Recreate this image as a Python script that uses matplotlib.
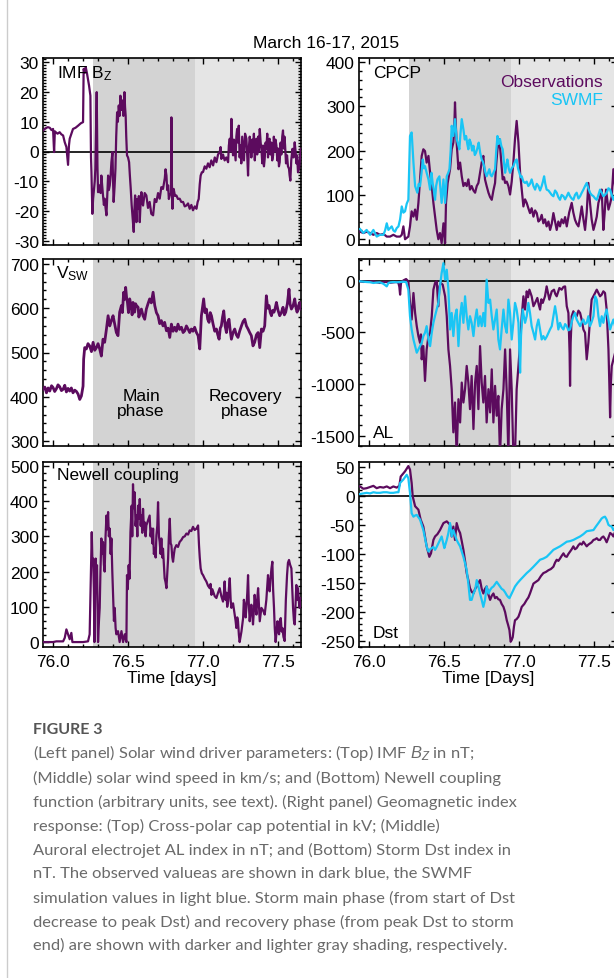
import numpy as np
import matplotlib
matplotlib.use("Agg")
import matplotlib.pyplot as plt
from matplotlib.ticker import MultipleLocator, FormatStrFormatter
from matplotlib.lines import Line2D

plt.rcParams['font.family'] = ['Liberation Sans', 'DejaVu Sans']
plt.rcParams['axes.unicode_minus'] = False
plt.rcParams['mathtext.fontset'] = 'custom'
plt.rcParams['mathtext.rm'] = 'Liberation Sans'
plt.rcParams['mathtext.it'] = 'Liberation Sans:italic'

# ---- data (day of year 2015) ----
main_start = 76.265
dst_peak = 76.946
storm_end = 77.70
x_range = (75.933, 77.653)

bz_obs = [(75.933, 7.1), (75.950, 7.8), (75.965, 8.2), (75.978, 8.0), (75.990, 7.2), (76.000, 7.6),
          (76.007, -0.2), (76.012, 6.8), (76.018, 6.5), (76.030, 6.0), (76.044, 6.5), (76.055, 5.8),
          (76.067, 5.4), (76.078, 3.1), (76.089, 1.5), (76.100, -4.5), (76.106, 2.0), (76.111, 4.3),
          (76.122, 6.0), (76.133, 7.6), (76.150, 8.0), (76.167, 8.7), (76.185, 9.5), (76.200, 9.9),
          (76.204, 27.8), (76.211, 26.5), (76.218, 28.4), (76.227, 26.1), (76.234, 24.0), (76.240, 22.2),
          (76.249, 18.8), (76.253, -2), (76.256, -6.9), (76.262, -21), (76.267, -16), (76.273, -12.6),
          (76.278, -10), (76.282, -5.8), (76.287, 8), (76.291, 20), (76.296, -5), (76.300, -13.7),
          (76.306, -12), (76.311, -11.4), (76.317, -14), (76.322, -8.1), (76.328, -12), (76.333, -14.8),
          (76.339, -18), (76.344, -15.9), (76.350, -19), (76.356, -21.5), (76.362, -14), (76.367, -8.1),
          (76.372, -13), (76.378, -11.4), (76.384, -8), (76.389, -3.6), (76.396, -0.2), (76.400, -10),
          (76.404, -17), (76.410, -12), (76.416, -5.8), (76.421, 5), (76.427, 13.2), (76.432, 10),
          (76.438, 15.5), (76.444, 12), (76.449, 18.8), (76.455, 14), (76.462, 17.2), (76.469, 12),
          (76.476, 20), (76.480, 15), (76.484, 12.1), (76.488, 5), (76.493, -1.3), (76.500, -2),
          (76.507, -3.6), (76.512, -8), (76.518, -12.6), (76.524, -18), (76.529, -21.5), (76.533, -24),
          (76.538, -27.1), (76.542, -20), (76.547, -14.8), (76.552, -20), (76.556, -23.8), (76.561, -16),
          (76.567, -19.3), (76.572, -15), (76.578, -23.8), (76.584, -17), (76.589, -13.7), (76.594, -17),
          (76.600, -18.2), (76.611, -14), (76.622, -14.8), (76.633, -19), (76.644, -17), (76.655, -21),
          (76.667, -21.5), (76.678, -16), (76.689, -17), (76.700, -14), (76.711, -15.9), (76.722, -12),
          (76.733, -12.6), (76.745, -9), (76.750, -6), (76.756, -8.1), (76.761, -13), (76.767, -11.4),
          (76.772, -16), (76.778, -14.8), (76.786, -14), (76.789, 11.5), (76.792, -10), (76.796, -19.3),
          (76.800, -14), (76.804, -12.6), (76.813, -15), (76.822, -14.8), (76.833, -16), (76.844, -15.9),
          (76.855, -17), (76.867, -17), (76.878, -18.5), (76.889, -18.2), (76.900, -17.5), (76.911, -19.3),
          (76.922, -18), (76.933, -19.8), (76.945, -18.5), (76.956, -19.3), (76.964, -17), (76.971, -16),
          (76.978, -11), (76.984, -8.1), (76.992, -7), (77.000, -6.9), (77.011, -5.0), (77.022, -5.8),
          (77.033, -4), (77.044, -5.3), (77.055, -3), (77.067, -4.7), (77.078, -2), (77.089, -3.6),
          (77.100, -1), (77.111, -0.2), (77.117, 1.5), (77.122, -2.5), (77.133, -1), (77.144, -3),
          (77.155, -2), (77.167, -3.6), (77.172, 2), (77.178, 4.3), (77.184, 0), (77.189, 11),
          (77.195, 2), (77.200, -1.3), (77.206, 4), (77.211, 0.9), (77.217, -3), (77.222, 5),
          (77.227, 7.6), (77.233, 3), (77.238, 8.7), (77.244, -2), (77.249, 2), (77.255, -4),
          (77.261, 5), (77.267, 0.9), (77.273, -3), (77.280, 6), (77.289, 4.3), (77.295, -2),
          (77.300, -8.1), (77.305, 1), (77.311, 5), (77.316, 3.1), (77.322, -2), (77.328, 4),
          (77.333, -0.2), (77.339, 6), (77.345, -3), (77.350, 2), (77.356, 4.3), (77.361, -1),
          (77.367, 5), (77.372, 0), (77.378, 7.6), (77.384, 3), (77.389, 0.9), (77.395, -4),
          (77.400, 2), (77.406, -5), (77.411, -2.5), (77.417, 3), (77.422, 0.9), (77.428, 6),
          (77.433, -2), (77.439, 4), (77.444, 4.3), (77.450, -1), (77.456, 3), (77.461, -3),
          (77.467, -1.3), (77.472, 5), (77.478, 0), (77.483, 4), (77.489, 2), (77.495, -3),
          (77.500, 1), (77.506, -5), (77.511, -3.6), (77.517, 3), (77.522, -1), (77.528, 5),
          (77.533, 7.1), (77.539, 1), (77.543, 5), (77.547, 2), (77.553, -4), (77.560, -1.3),
          (77.566, -5), (77.573, -5.8), (77.577, -8), (77.582, -9.8), (77.588, -3), (77.596, 0.9),
          (77.603, -2), (77.611, 3.1), (77.617, 0), (77.622, -4), (77.627, -1.3), (77.633, -7),
          (77.640, -5.8), (77.646, -2), (77.651, 0.9)]

vsw_obs = [(75.933, 417), (75.945, 422), (75.956, 409), (75.967, 420), (75.978, 413), (75.990, 425),
           (76.000, 421), (76.011, 412), (76.022, 418), (76.033, 427), (76.044, 423), (76.056, 414),
           (76.067, 417), (76.078, 426), (76.089, 411), (76.100, 419), (76.111, 413), (76.122, 420),
           (76.133, 409), (76.145, 415), (76.156, 412), (76.167, 406), (76.178, 394), (76.189, 402),
           (76.200, 424), (76.204, 485), (76.211, 511), (76.222, 508), (76.233, 520), (76.244, 515),
           (76.256, 502), (76.267, 523), (76.278, 505), (76.289, 511), (76.300, 520), (76.311, 508),
           (76.322, 492), (76.333, 530), (76.344, 523), (76.356, 553), (76.367, 583), (76.378, 560),
           (76.389, 572), (76.400, 583), (76.411, 564), (76.422, 545), (76.433, 538), (76.444, 591),
           (76.456, 606), (76.462, 590), (76.471, 636), (76.478, 620), (76.484, 647), (76.490, 625),
           (76.496, 613), (76.503, 590), (76.511, 621), (76.522, 602), (76.527, 585), (76.533, 613),
           (76.544, 591), (76.550, 610), (76.556, 606), (76.567, 602), (76.572, 580), (76.578, 587),
           (76.589, 598), (76.600, 583), (76.611, 575), (76.622, 598), (76.633, 610), (76.644, 621),
           (76.655, 612), (76.667, 636), (76.678, 606), (76.689, 590), (76.700, 583), (76.711, 565),
           (76.722, 572), (76.733, 560), (76.744, 568), (76.756, 549), (76.767, 555), (76.778, 534),
           (76.789, 564), (76.800, 548), (76.811, 557), (76.822, 548), (76.833, 564), (76.844, 552),
           (76.856, 557), (76.867, 545), (76.878, 549), (76.889, 560), (76.900, 553), (76.911, 545),
           (76.922, 553), (76.933, 548), (76.944, 557), (76.956, 545), (76.967, 538), (76.978, 508),
           (76.989, 583), (77.004, 621), (77.013, 590), (77.022, 598), (77.031, 575), (77.040, 568),
           (77.048, 590), (77.056, 583), (77.067, 564), (77.078, 548), (77.089, 553), (77.098, 540),
           (77.107, 530), (77.115, 555), (77.122, 560), (77.130, 580), (77.138, 594), (77.147, 560),
           (77.156, 545), (77.164, 568), (77.173, 575), (77.181, 550), (77.189, 530), (77.200, 545),
           (77.211, 553), (77.222, 540), (77.233, 534), (77.244, 548), (77.256, 560), (77.267, 570),
           (77.278, 575), (77.289, 560), (77.300, 553), (77.311, 545), (77.322, 538), (77.333, 515),
           (77.344, 523), (77.356, 540), (77.367, 545), (77.378, 511), (77.389, 553), (77.400, 548),
           (77.411, 560), (77.422, 628), (77.431, 600), (77.440, 606), (77.448, 590), (77.456, 583),
           (77.464, 595), (77.473, 591), (77.481, 600), (77.489, 613), (77.500, 595), (77.511, 583),
           (77.522, 590), (77.533, 602), (77.542, 585), (77.551, 591), (77.562, 610), (77.573, 643),
           (77.580, 610), (77.589, 598), (77.600, 605), (77.611, 621), (77.620, 600), (77.627, 591),
           (77.636, 605), (77.644, 613), (77.651, 598)]

newell_obs = [(75.933, 0), (76.000, 0), (76.022, 2), (76.067, 2), (76.078, 12), (76.089, 36),
              (76.100, 22), (76.111, 8), (76.122, 26), (76.129, 0), (76.200, 0), (76.233, 2),
              (76.244, 22), (76.251, 162), (76.258, 312), (76.263, 220), (76.267, 237), (76.272, 150),
              (76.276, 0), (76.280, 120), (76.284, 237), (76.288, 180), (76.293, 218), (76.300, 0),
              (76.306, 60), (76.311, 97), (76.316, 200), (76.322, 294), (76.328, 250), (76.333, 284),
              (76.339, 220), (76.344, 200), (76.350, 300), (76.356, 359), (76.361, 320), (76.367, 369),
              (76.372, 300), (76.378, 322), (76.384, 250), (76.389, 294), (76.395, 200), (76.400, 134),
              (76.406, 60), (76.411, 97), (76.417, 40), (76.422, 22), (76.433, 31), (76.444, 0),
              (76.456, 31), (76.467, 0), (76.478, 22), (76.489, 0), (76.493, 190), (76.498, 150),
              (76.504, 218), (76.510, 180), (76.516, 312), (76.524, 387), (76.528, 300), (76.533, 448),
              (76.538, 380), (76.544, 425), (76.550, 330), (76.556, 359), (76.562, 300), (76.567, 387),
              (76.573, 350), (76.578, 406), (76.584, 330), (76.589, 359), (76.595, 310), (76.600, 378),
              (76.606, 320), (76.611, 340), (76.617, 300), (76.622, 331), (76.633, 345), (76.644, 359),
              (76.650, 300), (76.656, 322), (76.662, 280), (76.667, 322), (76.672, 250), (76.678, 265),
              (76.684, 240), (76.689, 303), (76.695, 330), (76.700, 397), (76.706, 300), (76.711, 284),
              (76.717, 250), (76.722, 294), (76.728, 240), (76.733, 265), (76.739, 220), (76.744, 181),
              (76.750, 170), (76.756, 153), (76.762, 200), (76.767, 237), (76.772, 300), (76.778, 350),
              (76.784, 280), (76.789, 275), (76.795, 240), (76.800, 228), (76.806, 250), (76.811, 265),
              (76.822, 275), (76.833, 270), (76.844, 284), (76.856, 290), (76.867, 298), (76.878, 300),
              (76.889, 308), (76.900, 305), (76.911, 317), (76.922, 315), (76.933, 327), (76.944, 318),
              (76.956, 322), (76.967, 331), (76.973, 275), (76.978, 240), (76.984, 209), (76.992, 195),
              (77.000, 190), (77.011, 180), (77.022, 172), (77.033, 160), (77.044, 153), (77.050, 165),
              (77.056, 134), (77.062, 150), (77.067, 144), (77.078, 130), (77.089, 125), (77.100, 140),
              (77.111, 153), (77.122, 130), (77.133, 115), (77.139, 140), (77.144, 172), (77.150, 120),
              (77.156, 140), (77.161, 100), (77.167, 115), (77.172, 150), (77.178, 181), (77.184, 120),
              (77.189, 97), (77.200, 110), (77.211, 78), (77.217, 60), (77.222, 40), (77.228, 70),
              (77.233, 59), (77.239, 20), (77.244, 0), (77.256, 30), (77.267, 68), (77.272, 120),
              (77.278, 106), (77.284, 70), (77.289, 97), (77.295, 140), (77.300, 190), (77.305, 110),
              (77.311, 59), (77.317, 90), (77.322, 106), (77.328, 80), (77.333, 50), (77.339, 90),
              (77.344, 134), (77.350, 100), (77.356, 78), (77.361, 120), (77.367, 153), (77.372, 110),
              (77.378, 59), (77.384, 80), (77.389, 97), (77.400, 90), (77.411, 78), (77.422, 120),
              (77.433, 190), (77.439, 160), (77.444, 144), (77.450, 180), (77.456, 209), (77.462, 228),
              (77.467, 150), (77.473, 97), (77.478, 40), (77.484, 0), (77.490, 30), (77.496, 59),
              (77.501, 30), (77.507, 22), (77.512, 60), (77.518, 68), (77.524, 30), (77.529, 40),
              (77.536, 15), (77.544, 3), (77.552, 120), (77.560, 190), (77.566, 225), (77.573, 233),
              (77.580, 220), (77.589, 209), (77.595, 150), (77.600, 97), (77.606, 60), (77.611, 50),
              (77.617, 110), (77.622, 162), (77.628, 120), (77.633, 153), (77.640, 110), (77.644, 97),
              (77.651, 125)]

cpcp_obs = [(75.940, 17), (75.962, 14), (75.984, 17), (76.007, 14), (76.029, 10), (76.051, 14),
            (76.073, 10), (76.096, 12), (76.118, 6), (76.140, 6), (76.162, 10), (76.184, 6),
            (76.207, 6), (76.218, 10), (76.229, 29), (76.240, 0), (76.262, 6), (76.273, 29),
            (76.284, 63), (76.296, 51), (76.307, 67), (76.318, 44), (76.329, 82), (76.340, 135),
            (76.351, 188), (76.362, 203), (76.373, 199), (76.384, 173), (76.396, 188), (76.407, 150),
            (76.418, 120), (76.429, 82), (76.440, 51), (76.451, 21), (76.462, 0), (76.473, 14),
            (76.484, -9), (76.496, 36), (76.507, -9), (76.513, 82), (76.524, 127), (76.540, 158),
            (76.551, 203), (76.562, 218), (76.568, 250), (76.573, 309), (76.578, 260), (76.584, 218),
            (76.596, 158), (76.607, 173), (76.618, 142), (76.629, 120), (76.640, 127), (76.651, 120),
            (76.662, 135), (76.673, 112), (76.684, 120), (76.696, 110), (76.707, 105), (76.718, 120),
            (76.729, 127), (76.740, 150), (76.751, 173), (76.762, 188), (76.773, 135), (76.784, 120),
            (76.796, 105), (76.807, 95), (76.818, 89), (76.829, 110), (76.840, 127), (76.848, 170),
            (76.856, 203), (76.869, 226), (76.880, 180), (76.891, 135), (76.900, 140), (76.907, 127),
            (76.918, 130), (76.929, 120), (76.940, 101), (76.951, 130), (76.962, 173), (76.973, 226),
            (76.984, 267), (76.996, 218), (77.007, 150), (77.018, 112), (77.029, 74), (77.040, 90),
            (77.051, 82), (77.062, 70), (77.073, 59), (77.084, 70), (77.096, 51), (77.107, 65),
            (77.118, 59), (77.129, 40), (77.140, 44), (77.151, 55), (77.162, 36), (77.173, 45),
            (77.184, 29), (77.196, 40), (77.207, 21), (77.218, 35), (77.229, 59), (77.240, 40),
            (77.251, 21), (77.262, 40), (77.273, 29), (77.284, 45), (77.296, 36), (77.307, 50),
            (77.318, 29), (77.334, 60), (77.351, 82), (77.362, 60), (77.373, 44), (77.384, 35),
            (77.396, 29), (77.407, 50), (77.418, 74), (77.429, 45), (77.440, 21), (77.451, 60),
            (77.462, 127), (77.473, 82), (77.484, 45), (77.496, 21), (77.507, 35), (77.518, 51),
            (77.529, 82), (77.540, 95), (77.551, 112), (77.562, 21), (77.571, 60), (77.580, 112),
            (77.596, 67), (77.607, 80), (77.618, 97), (77.629, 158), (77.640, 120), (77.653, 110)]

cpcp_swmf = [(75.940, 23), (75.962, 14), (75.984, 21), (76.007, 10), (76.029, 21), (76.051, 6),
             (76.073, 10), (76.096, 10), (76.107, 20), (76.118, 36), (76.129, 21), (76.140, 25),
             (76.151, 29), (76.162, 20), (76.173, 17), (76.184, 25), (76.196, 29), (76.207, 45),
             (76.218, 74), (76.229, 60), (76.240, 63), (76.251, 80), (76.262, 89), (76.273, 233),
             (76.284, 241), (76.296, 173), (76.307, 120), (76.322, 105), (76.331, 125), (76.340, 120),
             (76.350, 150), (76.358, 180), (76.366, 160), (76.373, 165), (76.384, 150), (76.396, 135),
             (76.407, 112), (76.416, 150), (76.424, 127), (76.432, 110), (76.440, 89), (76.447, 120),
             (76.456, 135), (76.469, 142), (76.484, 82), (76.496, 135), (76.507, 82), (76.518, 142),
             (76.528, 150), (76.536, 158), (76.544, 200), (76.551, 256), (76.562, 233), (76.573, 271),
             (76.584, 226), (76.593, 215), (76.602, 203), (76.610, 240), (76.618, 271), (76.629, 248),
             (76.638, 225), (76.647, 233), (76.655, 215), (76.662, 203), (76.670, 225), (76.678, 218),
             (76.687, 200), (76.696, 211), (76.705, 190), (76.713, 195), (76.722, 205), (76.731, 218),
             (76.741, 195), (76.751, 180), (76.759, 175), (76.767, 165), (76.776, 150), (76.784, 142),
             (76.793, 150), (76.802, 158), (76.810, 145), (76.818, 142), (76.829, 150), (76.840, 158),
             (76.848, 200), (76.856, 233), (76.864, 215), (76.873, 226), (76.882, 210), (76.891, 203),
             (76.899, 175), (76.907, 150), (76.914, 165), (76.922, 180), (76.931, 160), (76.940, 150),
             (76.951, 160), (76.962, 165), (76.973, 175), (76.984, 180), (76.993, 160), (77.002, 150),
             (77.010, 140), (77.018, 142), (77.029, 130), (77.040, 127), (77.051, 130), (77.062, 120),
             (77.073, 125), (77.084, 135), (77.096, 120), (77.107, 112), (77.118, 125), (77.129, 120),
             (77.140, 110), (77.151, 120), (77.159, 130), (77.167, 142), (77.175, 125), (77.184, 112),
             (77.196, 110), (77.207, 105), (77.218, 100), (77.229, 97), (77.240, 110), (77.251, 105),
             (77.262, 95), (77.273, 89), (77.284, 100), (77.296, 97), (77.307, 90), (77.318, 97),
             (77.329, 105), (77.340, 97), (77.351, 92), (77.362, 89), (77.373, 100), (77.384, 105),
             (77.396, 92), (77.407, 97), (77.418, 105), (77.429, 112), (77.440, 120), (77.451, 127),
             (77.462, 115), (77.473, 105), (77.484, 100), (77.496, 97), (77.507, 92), (77.518, 89),
             (77.529, 100), (77.540, 112), (77.551, 105), (77.562, 97), (77.573, 100), (77.584, 105),
             (77.596, 115), (77.607, 112), (77.618, 100), (77.629, 89), (77.640, 100), (77.653, 95)]

al_obs = [(75.940, -6), (75.962, -12), (75.984, -10), (76.007, -8), (76.029, -6), (76.051, -15),
          (76.073, -22), (76.096, -12), (76.118, -13), (76.140, -20), (76.162, -16), (76.184, -12),
          (76.196, -22), (76.202, -60), (76.207, -135), (76.213, -22), (76.229, 3), (76.247, 16),
          (76.262, -6), (76.273, -215), (76.284, -376), (76.290, -250), (76.296, -119), (76.307, -312),
          (76.318, -440), (76.329, -536), (76.340, -601), (76.346, -520), (76.351, -761), (76.362, -633),
          (76.373, -970), (76.384, -665), (76.396, -536), (76.407, -504), (76.418, -344), (76.429, -87),
          (76.440, -22), (76.451, -6), (76.462, -247), (76.469, -55), (76.478, -22), (76.491, -39),
          (76.507, -151), (76.518, -344), (76.529, -665), (76.540, -825), (76.551, -1050), (76.562, -1468),
          (76.573, -1179), (76.584, -1700), (76.596, -1147), (76.607, -1372), (76.618, -986), (76.629, -1179),
          (76.640, -1050), (76.651, -825), (76.662, -986), (76.673, -1243), (76.684, -922), (76.696, -1436),
          (76.707, -986), (76.718, -825), (76.729, -1243), (76.740, -633), (76.751, -986), (76.762, -1179),
          (76.773, -922), (76.784, -1372), (76.796, -1050), (76.807, -1275), (76.818, -858), (76.829, -1372),
          (76.840, -1018), (76.851, -1307), (76.862, -1115), (76.873, -1700), (76.884, -1243), (76.896, -1050),
          (76.907, -665), (76.918, -1082), (76.929, -1700), (76.940, -665), (76.951, -1050), (76.962, -1700),
          (76.973, -1700), (76.984, -1050), (76.996, -825), (77.007, -601), (77.018, -344), (77.029, -151),
          (77.040, -279), (77.051, -103), (77.060, -160), (77.069, -87), (77.084, -151), (77.096, -247),
          (77.107, -215), (77.122, -167), (77.131, -230), (77.140, -279), (77.149, -180), (77.158, -215),
          (77.173, -151), (77.184, -55), (77.193, -120), (77.202, -183), (77.218, -103), (77.233, -87),
          (77.242, -130), (77.251, -151), (77.269, -71), (77.284, -87), (77.296, -60), (77.307, -55),
          (77.318, -247), (77.329, -312), (77.337, -700), (77.340, -1018), (77.344, -600), (77.351, -344),
          (77.362, -296), (77.373, -330), (77.384, -344), (77.396, -290), (77.407, -312), (77.418, -380),
          (77.429, -472), (77.440, -504), (77.451, -761), (77.462, -601), (77.473, -376), (77.484, -183),
          (77.496, -150), (77.507, -119), (77.518, -87), (77.529, -120), (77.540, -151), (77.551, -135),
          (77.562, -103), (77.573, -119), (77.584, -279), (77.596, -665), (77.602, -1000), (77.607, -1323),
          (77.612, -1000), (77.618, -825), (77.629, -761), (77.640, -700), (77.653, -650)]

al_swmf = [(75.940, -6), (75.962, -10), (75.984, -13), (76.007, -15), (76.029, -22), (76.051, -18),
           (76.073, -16), (76.096, -30), (76.118, -55), (76.129, -22), (76.145, -15), (76.162, -13),
           (76.185, -15), (76.207, -13), (76.227, -10), (76.247, -13), (76.262, -87), (76.273, -344),
           (76.284, -472), (76.296, -569), (76.307, -633), (76.318, -697), (76.329, -665), (76.340, -633),
           (76.351, -601), (76.362, -536), (76.373, -504), (76.384, -440), (76.396, -569), (76.407, -633),
           (76.418, -504), (76.429, -408), (76.440, -340), (76.451, -279), (76.462, -215), (76.473, -55),
           (76.484, 74), (76.496, 170), (76.507, 10), (76.518, 106), (76.529, -87), (76.540, -472),
           (76.551, -312), (76.562, -536), (76.573, -344), (76.584, -279), (76.596, -633), (76.607, -344),
           (76.618, -215), (76.629, -408), (76.640, -151), (76.651, -344), (76.662, -472), (76.673, -344),
           (76.684, -408), (76.696, -536), (76.707, -376), (76.718, -279), (76.729, -440), (76.740, -344),
           (76.751, -440), (76.762, -312), (76.773, -440), (76.784, 10), (76.796, -215), (76.807, -183),
           (76.818, -344), (76.829, -472), (76.840, -376), (76.851, -279), (76.862, -569), (76.873, -665),
           (76.884, -472), (76.896, -279), (76.907, -440), (76.918, -504), (76.929, -183), (76.940, -312),
           (76.951, -569), (76.962, -408), (76.973, -215), (76.984, -279), (76.996, -408), (77.007, -890),
           (77.013, -536), (77.024, -279), (77.040, -408), (77.051, -344), (77.062, -215), (77.073, -312),
           (77.084, -440), (77.096, -504), (77.107, -569), (77.118, -440), (77.129, -376), (77.140, -472),
           (77.151, -569), (77.162, -536), (77.173, -569), (77.185, -540), (77.196, -504), (77.207, -470),
           (77.218, -440), (77.229, -344), (77.240, -247), (77.251, -344), (77.262, -472), (77.273, -408),
           (77.284, -450), (77.296, -472), (77.307, -420), (77.318, -440), (77.329, -480), (77.340, -472),
           (77.351, -400), (77.362, -344), (77.373, -312), (77.384, -376), (77.396, -410), (77.407, -440),
           (77.418, -400), (77.429, -376), (77.440, -420), (77.451, -408), (77.462, -344), (77.473, -440),
           (77.484, -400), (77.496, -344), (77.507, -151), (77.518, -183), (77.529, -344), (77.540, -440),
           (77.551, -344), (77.562, -408), (77.573, -330), (77.584, -279), (77.596, -380), (77.607, -472),
           (77.618, -420), (77.629, -376), (77.640, -440), (77.653, -420)]

dst_obs = [(75.940, 16), (75.962, 12), (75.984, 13), (76.007, 15), (76.029, 17), (76.051, 13),
           (76.073, 15), (76.096, 14), (76.118, 16), (76.140, 13), (76.162, 16), (76.184, 14),
           (76.202, 17), (76.211, 33), (76.240, 42), (76.262, 51), (76.273, 45), (76.284, 22),
           (76.291, -1), (76.307, -18), (76.329, -24), (76.344, -41), (76.362, -53), (76.384, -87),
           (76.402, -105), (76.413, -99), (76.429, -76), (76.440, -70), (76.456, -66), (76.473, -59),
           (76.496, -47), (76.518, -44), (76.540, -50), (76.551, -70), (76.562, -53), (76.573, -76),
           (76.584, -47), (76.596, -58), (76.607, -64), (76.618, -78), (76.629, -93), (76.640, -112),
           (76.651, -133), (76.662, -145), (76.673, -159), (76.684, -165), (76.696, -168), (76.707, -160),
           (76.718, -156), (76.729, -150), (76.740, -145), (76.751, -160), (76.762, -168), (76.773, -160),
           (76.784, -156), (76.796, -170), (76.807, -179), (76.818, -172), (76.829, -168), (76.840, -176),
           (76.851, -174), (76.862, -178), (76.873, -179), (76.884, -186), (76.896, -191), (76.907, -200),
           (76.918, -214), (76.927, -222), (76.936, -231), (76.944, -251), (76.951, -248), (76.958, -243),
           (76.966, -225), (76.973, -214), (76.984, -212), (76.996, -208), (77.007, -200), (77.018, -191),
           (77.035, -186), (77.051, -179), (77.062, -175), (77.073, -168), (77.084, -160), (77.096, -151),
           (77.112, -148), (77.129, -145), (77.146, -138), (77.162, -133), (77.179, -131), (77.196, -128),
           (77.212, -126), (77.229, -122), (77.240, -115), (77.251, -110), (77.262, -112), (77.273, -108),
           (77.285, -103), (77.296, -99), (77.307, -104), (77.318, -105), (77.329, -100), (77.340, -96),
           (77.351, -92), (77.362, -87), (77.373, -92), (77.384, -90), (77.396, -85), (77.407, -82),
           (77.418, -84), (77.429, -79), (77.440, -83), (77.451, -87), (77.462, -84), (77.473, -82),
           (77.484, -80), (77.496, -76), (77.507, -75), (77.518, -73), (77.529, -76), (77.540, -76),
           (77.551, -72), (77.562, -70), (77.573, -74), (77.584, -80), (77.596, -72), (77.607, -64),
           (77.618, -66), (77.629, -70), (77.640, -62), (77.653, -58)]

dst_swmf = [(75.940, 3), (75.962, 4), (75.984, 5), (76.007, 4), (76.029, 6), (76.051, 5),
            (76.073, 5), (76.096, 6), (76.118, 6), (76.140, 5), (76.162, 5), (76.184, 6),
            (76.196, 6), (76.207, 22), (76.229, 28), (76.251, 36), (76.262, 30), (76.273, 5),
            (76.284, -30), (76.296, -36), (76.307, -34), (76.318, -33), (76.329, -37), (76.340, -41),
            (76.351, -50), (76.362, -59), (76.373, -73), (76.384, -87), (76.396, -96), (76.407, -92),
            (76.418, -90), (76.429, -88), (76.440, -93), (76.451, -88), (76.462, -82), (76.473, -76),
            (76.484, -70), (76.493, -80), (76.502, -90), (76.510, -83), (76.518, -76), (76.529, -64),
            (76.540, -47), (76.551, -70), (76.562, -59), (76.573, -68), (76.584, -76), (76.596, -82),
            (76.607, -87), (76.618, -96), (76.629, -105), (76.640, -116), (76.651, -128), (76.662, -151),
            (76.673, -179), (76.684, -179), (76.696, -168), (76.707, -162), (76.718, -145), (76.729, -156),
            (76.740, -168), (76.751, -179), (76.762, -191), (76.773, -179), (76.784, -156), (76.796, -168),
            (76.807, -162), (76.818, -158), (76.829, -156), (76.840, -152), (76.851, -148), (76.862, -152),
            (76.873, -156), (76.884, -160), (76.896, -162), (76.907, -166), (76.918, -171), (76.927, -174),
            (76.936, -176), (76.951, -168), (76.962, -162), (76.973, -156), (76.990, -150), (77.007, -145),
            (77.029, -139), (77.051, -133), (77.073, -128), (77.096, -122), (77.118, -116), (77.140, -110),
            (77.162, -108), (77.184, -105), (77.207, -99), (77.229, -93), (77.251, -90), (77.273, -87),
            (77.296, -83), (77.318, -79), (77.340, -78), (77.362, -76), (77.384, -73), (77.407, -70),
            (77.429, -66), (77.451, -61), (77.473, -60), (77.496, -59), (77.512, -53), (77.529, -47),
            (77.540, -43), (77.551, -39), (77.562, -37), (77.573, -36), (77.584, -41), (77.596, -50),
            (77.607, -52), (77.618, -53), (77.629, -59), (77.640, -55), (77.653, -52)]

caption_lines = [
    "(Left panel) Solar wind driver parameters: (Top) IMF $B_Z$ in nT;",
    "(Middle) solar wind speed in km/s; and (Bottom) Newell coupling",
    "function (arbitrary units, see text). (Right panel) Geomagnetic index",
    "response: (Top) Cross-polar cap potential in kV; (Middle)",
    "Auroral electrojet AL index in nT; and (Bottom) Storm Dst index in",
    "nT. The observed valueas are shown in dark blue, the SWMF",
    "simulation values in light blue. Storm main phase (from start of Dst",
    "decrease to peak Dst) and recovery phase (from peak Dst to storm",
    "end) are shown with darker and lighter gray shading, respectively.",
]

# ---- styling ----
OBS = '#5c0b5e'
SIM = '#19c5f5'
DARK = '#d3d3d3'
LIGHT = '#e5e5e5'
W, H = 614, 979
FS = 12.5

fig = plt.figure(figsize=(W / 100, H / 100), dpi=100)


def box(l, t, r, b):
    return [l / W, 1 - b / H, (r - l) / W, (b - t) / H]


def panel(rect, ylim, major, minor, show_x=False):
    ax = fig.add_axes(box(*rect))
    ax.axvspan(main_start, dst_peak, color=DARK, lw=0, zorder=0)
    ax.axvspan(dst_peak, storm_end, color=LIGHT, lw=0, zorder=0)
    ax.set_xlim(*x_range)
    ax.set_ylim(*ylim)
    ax.xaxis.set_major_locator(MultipleLocator(0.5))
    ax.xaxis.set_minor_locator(MultipleLocator(0.1))
    ax.xaxis.set_major_formatter(FormatStrFormatter('%.1f'))
    ax.yaxis.set_major_locator(MultipleLocator(major))
    ax.yaxis.set_minor_locator(MultipleLocator(minor))
    ax.tick_params(which='both', direction='in', top=True, right=True,
                   width=1.0, labelsize=FS, pad=3)
    ax.tick_params(which='major', length=4.5)
    ax.tick_params(which='minor', length=2.3)
    ax.tick_params(axis='x', pad=5, labelbottom=show_x)
    for s in ax.spines.values():
        s.set_linewidth(1.2)
    return ax


def draw(ax, series, color, lw=1.6):
    arr = np.array(series)
    ax.plot(arr[:, 0], arr[:, 1], color=color, lw=lw, zorder=3)


L = (43, 301)
R = (359, 617)
rows = [(59, 246), (260, 447), (463, 648)]

ax_bz = panel((L[0], rows[0][0], L[1], rows[0][1]), (-31.5, 31.5), 10, 1)
ax_v = panel((L[0], rows[1][0], L[1], rows[1][1]), (289, 711), 100, 20)
ax_n = panel((L[0], rows[2][0], L[1], rows[2][1]), (-14, 511), 100, 20, show_x=True)
ax_c = panel((R[0], rows[0][0], R[1], rows[0][1]), (-13, 409), 100, 20)
ax_al = panel((R[0], rows[1][0], R[1], rows[1][1]), (-1600, 210), 500, 100)
ax_d = panel((R[0], rows[2][0], R[1], rows[2][1]), (-260, 58), 50, 10, show_x=True)

for ax in (ax_bz, ax_al, ax_d):
    ax.axhline(0, color='black', lw=1.2, zorder=2)

draw(ax_bz, bz_obs, OBS)
draw(ax_v, vsw_obs, OBS, lw=2.0)
draw(ax_n, newell_obs, OBS)
draw(ax_c, cpcp_obs, OBS)
draw(ax_c, cpcp_swmf, SIM)
draw(ax_al, al_obs, OBS)
draw(ax_al, al_swmf, SIM)
draw(ax_d, dst_obs, OBS)
draw(ax_d, dst_swmf, SIM)

ax_bz.text(0.054, 0.898, r'IMF B$_\mathregular{Z}$', transform=ax_bz.transAxes, fontsize=FS, zorder=5)
ax_v.text(0.05, 0.904, r'V$_\mathregular{SW}$', transform=ax_v.transAxes, fontsize=FS, zorder=5)
ax_n.text(0.054, 0.908, 'Newell coupling', transform=ax_n.transAxes, fontsize=FS, zorder=5)
ax_c.text(0.054, 0.898, 'CPCP', transform=ax_c.transAxes, fontsize=FS, zorder=5)
ax_c.text(0.946, 0.85, 'Observations', transform=ax_c.transAxes, fontsize=FS,
          color=OBS, ha='right', zorder=5)
ax_c.text(0.946, 0.754, 'SWMF', transform=ax_c.transAxes, fontsize=FS,
          color=SIM, ha='right', zorder=5)
ax_al.text(0.054, 0.048, 'AL', transform=ax_al.transAxes, fontsize=FS, zorder=5)
ax_d.text(0.054, 0.054, 'Dst', transform=ax_d.transAxes, fontsize=FS, zorder=5)
ax_v.text(0.38, 0.23, 'Main\nphase', transform=ax_v.transAxes, fontsize=FS,
          ha='center', va='center', linespacing=1.0, zorder=5)
ax_v.text(0.783, 0.23, 'Recovery\nphase', transform=ax_v.transAxes, fontsize=FS,
          ha='center', va='center', linespacing=1.0, zorder=5)

ax_n.set_xlabel('Time [days]', fontsize=FS, labelpad=1)
ax_d.set_xlabel('Time [Days]', fontsize=FS, labelpad=1)

fig.text(326 / W, 1 - 44 / H, 'March 16-17, 2015', ha='center', va='center', fontsize=FS)

# page border line on the left
fig.add_artist(Line2D([7 / W, 7 / W], [0, 1], transform=fig.transFigure, color='#cccccc', lw=1))

# caption
cap_font = ['Lato', 'DejaVu Sans']
fig.text(33 / W, 1 - 730 / H, 'FIGURE 3', fontsize=11.5, fontweight='bold',
         family=cap_font, color='#555555', va='center')
ys = [753, 778, 802, 826, 850, 874, 898, 922, 945]
texts = []
for s, y in zip(caption_lines, ys):
    texts.append(fig.text(33 / W, 1 - y / H, s, fontsize=11, family=cap_font,
                          color='#6a6a6a', va='center'))

# fit caption font so the second line spans 33..500 px as in the original
size = 11.0
for _ in range(3):
    fig.canvas.draw()
    w = texts[1].get_window_extent().width
    size *= 467.0 / w
    for t in texts:
        t.set_fontsize(size)

fig.savefig('out.png', dpi=100)
